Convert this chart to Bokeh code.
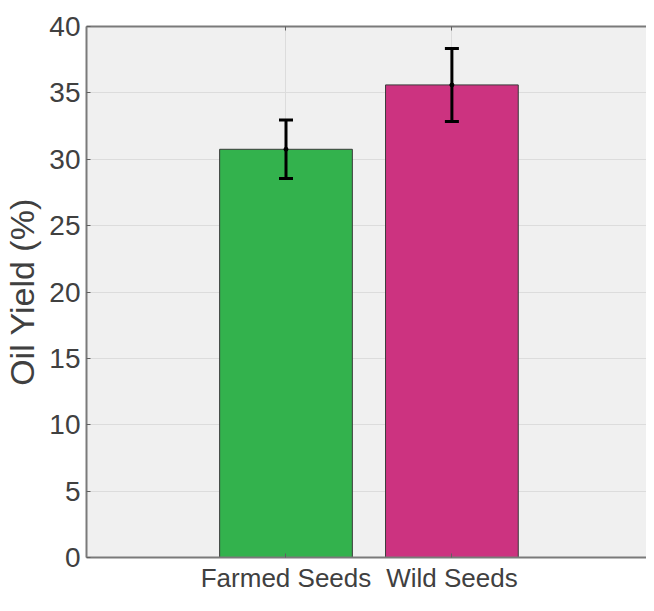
from bokeh.plotting import figure
from bokeh.models import (ColumnDataSource, Range1d, FixedTicker, LinearAxis,
                          Whisker, TeeHead)
from bokeh.embed import file_html
from bokeh.resources import INLINE

categories = ["Farmed Seeds", "Wild Seeds"]
positions = [1, 2]
yield_mean = [30.75, 35.6]
yield_err = [2.2, 2.75]
bar_colors = ["#33B24D", "#CC3380"]
y_ticks = [0, 5, 10, 15, 20, 25, 30, 35, 40]

FONT = "Liberation Sans"

src = ColumnDataSource(dict(
    x=positions, top=yield_mean, color=bar_colors,
    lower=[m - e for m, e in zip(yield_mean, yield_err)],
    upper=[m + e for m, e in zip(yield_mean, yield_err)],
))

p = figure(width=646, height=595, output_backend="svg", toolbar_location=None,
           x_range=Range1d(-0.2025, 3.173), y_range=Range1d(0, 40),
           min_border_left=86, min_border_right=0, min_border_top=26,
           min_border_bottom=36, background_fill_color="#f0f0f0",
           border_fill_color="white", outline_line_color=None)

p.vbar(x="x", top="top", width=0.8, source=src, fill_color="color",
       line_color="#3a3a3a", line_width=1)

w = Whisker(base="x", lower="lower", upper="upper", source=src,
            line_color="black", line_width=3, level="overlay",
            upper_head=TeeHead(size=14, line_width=3, line_color="black"),
            lower_head=TeeHead(size=14, line_width=3, line_color="black"))
p.add_layout(w)
p.scatter(x="x", y="top", source=src, size=4, color="black", level="overlay")

# grids
p.ygrid.ticker = FixedTicker(ticks=y_ticks)
p.xgrid.ticker = FixedTicker(ticks=positions)
for g in (p.xgrid, p.ygrid):
    g.grid_line_color = "#dcdcdc"
    g.grid_line_width = 1

# y axis
ya = p.yaxis[0]
ya.ticker = FixedTicker(ticks=y_ticks)
ya.axis_line_color = "#7a7a7a"
ya.axis_line_width = 2
ya.major_tick_in = 4
ya.major_tick_out = 0
ya.major_tick_line_color = "#606060"
ya.minor_tick_line_color = None
ya.major_label_standoff = 6
ya.major_label_text_font = FONT
ya.major_label_text_font_size = "28px"
ya.major_label_text_color = "#404040"
ya.axis_label = "Oil Yield (%)"
ya.axis_label_text_font = FONT
ya.axis_label_text_font_size = "34px"
ya.axis_label_text_font_style = "normal"
ya.axis_label_text_color = "#404040"
ya.axis_label_standoff = 5

# bottom axis with category labels
xa = p.xaxis[0]
xa.ticker = FixedTicker(ticks=positions)
xa.major_label_overrides = dict(zip(positions, categories))
xa.major_label_text_font = FONT
xa.major_label_text_font_size = "26px"
xa.major_label_text_color = "#404040"
xa.major_label_standoff = 5
xa.axis_line_color = "#7a7a7a"
xa.axis_line_width = 2
xa.major_tick_in = 4
xa.major_tick_out = 0
xa.major_tick_line_color = "#606060"
xa.minor_tick_line_color = None

# top axis as frame border
ta = LinearAxis(ticker=FixedTicker(ticks=positions),
                major_label_overrides={1: "", 2: ""},
                axis_line_color="#7a7a7a", axis_line_width=2,
                major_tick_in=4, major_tick_out=0,
                major_tick_line_color="#606060", minor_tick_line_color=None)
p.add_layout(ta, "above")

open("out.html", "w").write(file_html(p, INLINE))
